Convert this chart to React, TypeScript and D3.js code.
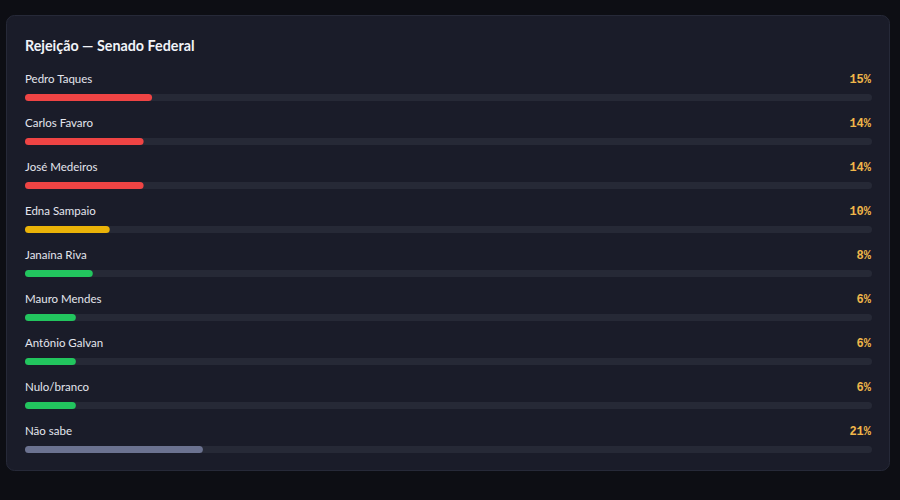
import React, { useRef, useEffect } from 'react';
import * as d3 from 'd3';

const candidates = [
  'Pedro Taques',
  'Carlos Favaro',
  'José Medeiros',
  'Edna Sampaio',
  'Janaína Riva',
  'Mauro Mendes',
  'Antônio Galvan',
  'Nulo/branco',
  'Não sabe',
];
const rejection = [15, 14, 14, 10, 8, 6, 6, 6, 21];
const barColors = ['#ef4444', '#ef4444', '#ef4444', '#eab308', '#22c55e', '#22c55e', '#22c55e', '#22c55e', '#6b7290'];
const chartTitle = 'Rejeição — Senado Federal';

const W = 900;
const H = 500;

export default function App() {
  const svgRef = useRef<SVGSVGElement>(null);

  useEffect(() => {
    if (!svgRef.current) return;
    const svg = d3.select(svgRef.current);
    svg.selectAll('*').remove();

    const font = "Lato, 'Noto Sans', sans-serif";
    const left = 25;
    const right = 872;

    // page + card
    svg.append('rect').attr('width', W).attr('height', H).attr('fill', '#0d0e14');
    svg.append('rect')
      .attr('x', 6.5).attr('y', 15.5)
      .attr('width', 883).attr('height', 455)
      .attr('rx', 8)
      .attr('fill', '#1a1c29')
      .attr('stroke', '#262938');

    svg.append('text')
      .attr('x', left).attr('y', 51)
      .attr('font-family', font)
      .attr('font-size', '14.3px')
      .attr('font-weight', 700)
      .attr('fill', '#f1f3f8')
      .text(chartTitle);

    const x = d3.scaleLinear().domain([0, 100]).range([0, right - left]);
    const y = d3.scaleBand<string>()
      .domain(candidates)
      .range([62, 62 + 44 * candidates.length])
      .paddingInner(0);

    const rows = svg.append('g')
      .selectAll('g')
      .data(candidates)
      .join('g')
      .attr('transform', (d) => `translate(0, ${y(d)})`);

    rows.append('text')
      .attr('x', left).attr('y', 21.3)
      .attr('font-family', font)
      .attr('font-size', '11.5px')
      .attr('fill', '#e4e6ee')
      .text((d) => d);

    rows.append('text')
      .attr('x', right - 1).attr('y', 21)
      .attr('text-anchor', 'end')
      .attr('font-family', "'Liberation Mono', 'DejaVu Sans Mono', monospace")
      .attr('font-size', '12px')
      .attr('font-weight', 700)
      .attr('fill', '#f0b64a')
      .text((_, i) => `${rejection[i]}%`);

    rows.append('rect')
      .attr('x', left).attr('y', 32)
      .attr('width', x(100)).attr('height', 7)
      .attr('rx', 3.5)
      .attr('fill', '#262936');

    rows.append('rect')
      .attr('x', left).attr('y', 32)
      .attr('width', (_, i) => x(rejection[i])).attr('height', 7)
      .attr('rx', 3.5)
      .attr('fill', (_, i) => barColors[i]);
  }, []);

  return (
    <div style={{ position: 'fixed', left: 0, top: 0, width: W, height: H }}>
      <svg ref={svgRef} width={W} height={H} style={{ display: 'block' }} />
    </div>
  );
}
